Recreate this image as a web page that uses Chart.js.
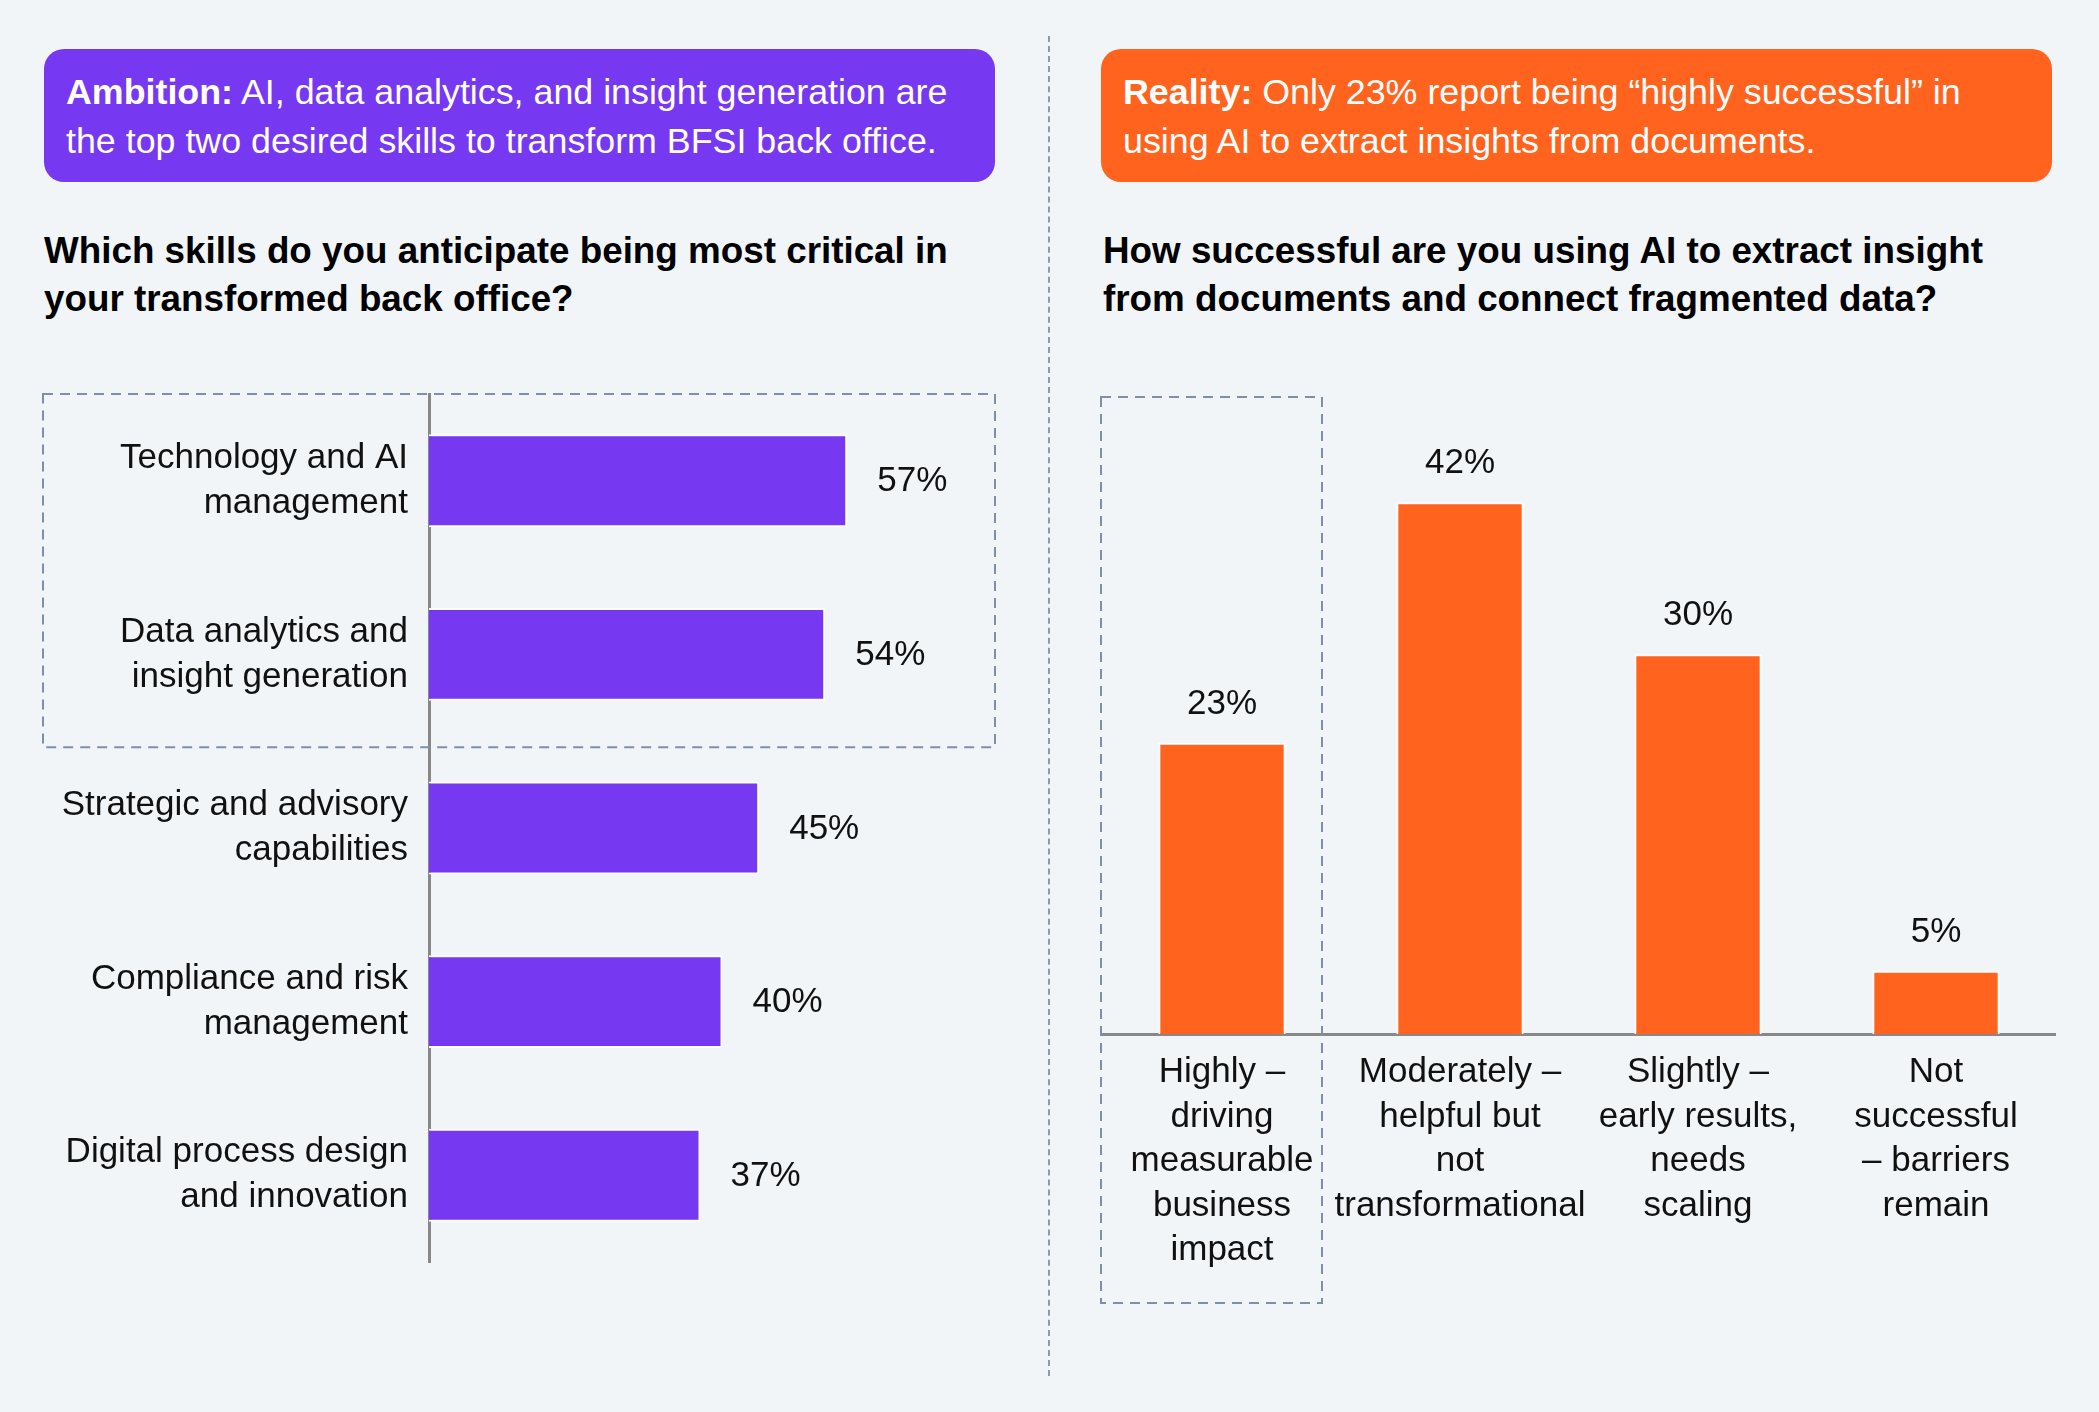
<!DOCTYPE html>
<html>
<head>
<meta charset="utf-8">
<script src="https://cdn.jsdelivr.net/npm/chart.js@4.4.1/dist/chart.umd.min.js"></script>
<style>
  body { margin: 0; background: #f2f5f8; font-family: "Liberation Sans", Arial, Helvetica, sans-serif; }
  #page { position: relative; width: 2099px; height: 1412px; overflow: hidden; }
  .banner { position: absolute; top: 49px; width: 951px; height: 133px; box-sizing: border-box;
            padding: 19px 22px; border-radius: 20px; color: #fff; font-size: 35.8px; line-height: 49px; white-space: nowrap; }
  .question { position: absolute; top: 227px; font-size: 36.8px; font-weight: bold; line-height: 48px; color: #000; white-space: nowrap; }
  .divider { position: absolute; left: 1048px; top: 36px; height: 1340px; border-left: 2px dashed #8a9bb0; }
  canvas { position: absolute; }
</style>
</head>
<body>
<div id="page">
  <div class="banner" style="left:44px; background:#7638f0;"><b>Ambition:</b> AI, data analytics, and insight generation are<br>the top two desired skills to transform BFSI back office.</div>
  <div class="banner" style="left:1101px; background:#ff631e;"><b>Reality:</b> Only 23% report being “highly successful” in<br>using AI to extract insights from documents.</div>

  <div class="question" style="left:44px;">Which skills do you anticipate being most critical in<br>your transformed back office?</div>
  <div class="question" style="left:1103px;">How successful are you using AI to extract insight<br>from documents and connect fragmented data?</div>

  <div class="divider"></div>

  <canvas id="skillsChart" width="986" height="900" style="left:30px; top:380px;"></canvas>
  <canvas id="successChart" width="1000" height="954" style="left:1080px; top:380px;"></canvas>
</div>

<script>
// left chart: critical skills
const skillLabels = [
  ["Technology and AI", "management"],
  ["Data analytics and", "insight generation"],
  ["Strategic and advisory", "capabilities"],
  ["Compliance and risk", "management"],
  ["Digital process design", "and innovation"]
];
const skillValues = [57, 54, 45, 40, 37];

// right chart: success extracting insight
const successLabels = [
  ["Highly –", "driving", "measurable", "business", "impact"],
  ["Moderately –", "helpful but", "not", "transformational"],
  ["Slightly –", "early results,", "needs", "scaling"],
  ["Not", "successful", "– barriers", "remain"]
];
const successValues = [23, 42, 30, 5];

const PURPLE = "#7638f0";
const ORANGE = "#ff631e";
const AXIS = "#888888";
const DASH = "#7d90a8";
const FONT = "'Liberation Sans', Arial, Helvetica, sans-serif";

Chart.defaults.font.family = FONT;
Chart.defaults.color = "#111";

// dashed highlight around the top two skills
const skillsBox = {
  id: "skillsBox",
  beforeDatasetsDraw(chart) {
    const {ctx, chartArea, scales: {y}} = chart;
    const top = chartArea.top;
    const bottom = (y.getPixelForValue(1) + y.getPixelForValue(2)) / 2 + 6;
    ctx.save();
    ctx.setLineDash([10, 7]);
    ctx.strokeStyle = DASH;
    ctx.lineWidth = 2;
    ctx.strokeRect(13, top, chartArea.right - 21 - 13, bottom - top);
    ctx.restore();
  }
};

const skillsValueLabels = {
  id: "skillsValueLabels",
  afterDatasetsDraw(chart) {
    const {ctx, scales: {x, y}} = chart;
    ctx.save();
    ctx.font = "35px " + FONT;
    ctx.fillStyle = "#111";
    ctx.textAlign = "left";
    ctx.textBaseline = "middle";
    skillValues.forEach((v, i) => {
      ctx.fillText(v + "%", x.getPixelForValue(v) + 30, y.getPixelForValue(i) + 1);
    });
    ctx.restore();
  }
};

new Chart(document.getElementById("skillsChart"), {
  type: "bar",
  data: {
    labels: skillLabels,
    datasets: [{
      data: skillValues,
      backgroundColor: PURPLE,
      borderColor: "#ffffff",
      borderWidth: 2,
      barPercentage: 0.535,
      categoryPercentage: 1.0
    }]
  },
  options: {
    indexAxis: "y",
    responsive: false,
    animation: false,
    layout: { padding: { top: 14, bottom: 18, left: 0, right: 0 } },
    plugins: { legend: { display: false }, tooltip: { enabled: false } },
    scales: {
      x: { display: false, min: 0, max: 80 },
      y: {
        afterFit(scale) {
          scale.width = 399;
          scale.paddingTop = 0;
          scale.paddingBottom = 0;
        },
        grid: { display: false, drawTicks: false },
        border: { display: true, color: AXIS, width: 3 },
        ticks: { padding: 21, color: "#111", font: { size: 35, lineHeight: 1.285 } }
      }
    }
  },
  plugins: [skillsBox, skillsValueLabels]
});

// dashed highlight around the first category
const successBox = {
  id: "successBox",
  beforeDatasetsDraw(chart) {
    const {ctx, chartArea, scales: {x}} = chart;
    const left = chartArea.left - 2;
    const right = x.getPixelForValue(0) + 100;
    const top = chartArea.top - 4;
    const bottom = chartArea.bottom + 269;
    ctx.save();
    ctx.setLineDash([10, 7]);
    ctx.strokeStyle = DASH;
    ctx.lineWidth = 2;
    ctx.strokeRect(left, top, right - left, bottom - top);
    ctx.restore();
  }
};

const successValueLabels = {
  id: "successValueLabels",
  afterDatasetsDraw(chart) {
    const {ctx, scales: {x, y}} = chart;
    ctx.save();
    ctx.font = "35px " + FONT;
    ctx.fillStyle = "#111";
    ctx.textAlign = "center";
    ctx.textBaseline = "alphabetic";
    successValues.forEach((v, i) => {
      ctx.fillText(v + "%", x.getPixelForValue(i), y.getPixelForValue(v) - 29);
    });
    ctx.restore();
  }
};

new Chart(document.getElementById("successChart"), {
  type: "bar",
  data: {
    labels: successLabels,
    datasets: [{
      data: successValues,
      backgroundColor: ORANGE,
      borderColor: "#ffffff",
      borderWidth: 2,
      barPercentage: 0.535,
      categoryPercentage: 1.0
    }]
  },
  options: {
    responsive: false,
    animation: false,
    layout: { padding: { top: 21, bottom: 0, left: 23, right: 25 } },
    plugins: { legend: { display: false }, tooltip: { enabled: false } },
    scales: {
      y: { display: false, min: 0, max: 50 },
      x: {
        afterFit(scale) { scale.height = 300; },
        grid: { display: false, drawTicks: false },
        border: { display: true, color: AXIS, width: 3 },
        ticks: { padding: 16, autoSkip: false, maxRotation: 0, minRotation: 0, color: "#111",
                 font: { size: 35, lineHeight: 1.275 } }
      }
    }
  },
  plugins: [successBox, successValueLabels]
});
</script>
</body>
</html>
